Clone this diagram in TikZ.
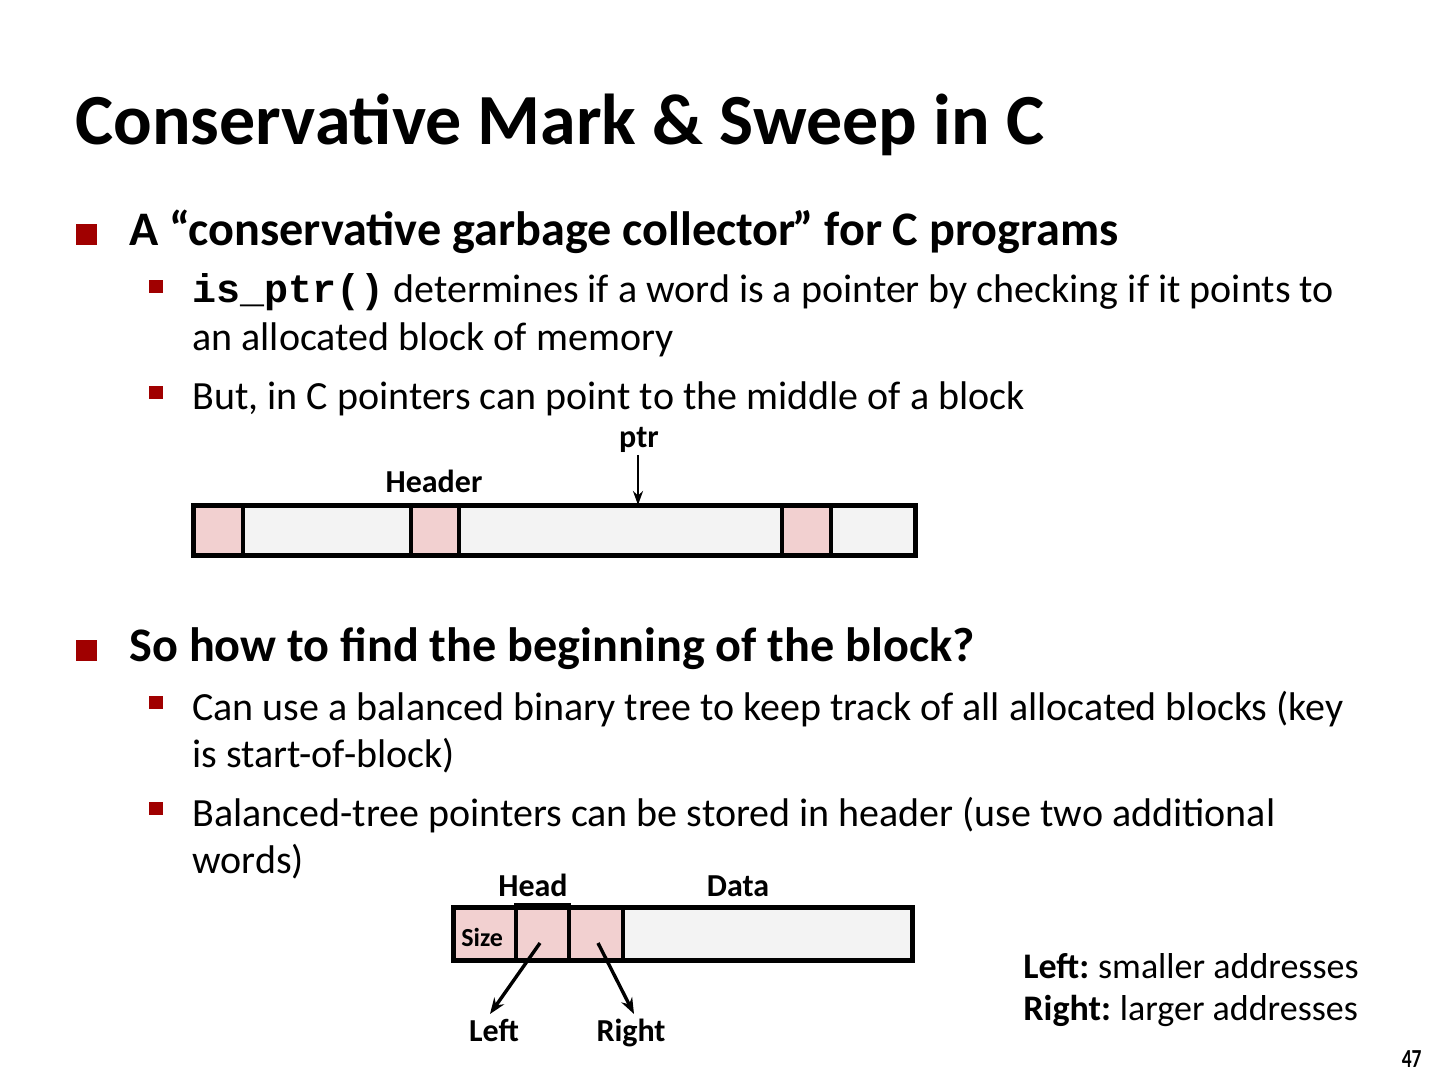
\documentclass[tikz,border=0pt]{standalone}
\usepackage{fontspec}
\setmainfont{Carlito}
\newfontfamily\codefont{Liberation Mono}
\usetikzlibrary{arrows.meta}
\definecolor{bulletred}{RGB}{160,0,0}
\definecolor{cellpink}{RGB}{242,208,208}
\definecolor{cellgrey}{RGB}{243,243,243}
\tikzset{
  txt/.style={inner sep=0pt, anchor=base west},
  ctxt/.style={inner sep=0pt, anchor=base},
  lvlone/.style={txt, font=\fontsize{24.1}{29}\selectfont\bfseries},
  lvltwo/.style={txt, font=\fontsize{20}{24}\selectfont},
  lbl/.style={ctxt, font=\fontsize{16}{19}\selectfont\bfseries},
  bigbullet/.style={fill=bulletred},
  smallbullet/.style={fill=bulletred},
  pinkcell/.style={fill=cellpink},
  greycell/.style={fill=cellgrey},
  blockline/.style={line width=2.5pt},
  divline/.style={line width=2pt},
  ptrarrow/.style={line width=1.3pt, -{Stealth[length=7pt,width=5pt]}},
  treearrow/.style={line width=1.7pt, -{Stealth[length=8pt,width=6pt]}},
}
\begin{document}
\begin{tikzpicture}[x=0.5pt,y=-0.5pt]
\useasboundingbox (0,0) rectangle (1440,1080);
% title
\node[txt, font=\fontsize{36}{43}\selectfont\bfseries] (title) at (75,145) {Conservative Mark \& Sweep in C};
% bullet 1
\path[bigbullet] (76,224) rectangle (97,245);
\node[lvlone] (b1) at (129,246) {A “conservative garbage collector\kern-1.5pt” for C programs};
\path[smallbullet] (149,280) rectangle (163,293);
\node[lvltwo] (b1a) at (192,303) {{\codefont\bfseries is\_ptr()} determines if a word is a pointer by checking if it points to};
\node[lvltwo] (b1a2) at (192,351) {an allocated block of memory};
\path[smallbullet] (149,386) rectangle (163,399);
\node[lvltwo] (b1b) at (192,410) {But, in C pointers can point to the middle of a block};
% top block
\path[pinkcell] (193,505) rectangle (243,555);
\path[greycell] (243,505) rectangle (411,555);
\path[pinkcell] (411,505) rectangle (459,555);
\path[greycell] (459,505) rectangle (782,555);
\path[pinkcell] (782,505) rectangle (831,555);
\path[greycell] (831,505) rectangle (915,555);
\draw[divline] (243,505) -- (243,555) (411,505) -- (411,555) (459,505) -- (459,555)
  (782,505) -- (782,555) (831,505) -- (831,555);
\draw[blockline] (193,505) rectangle (915,555);
\coordinate (ptrtarget) at (638,505);
\node[lbl] (header) at (434,493) {Header};
\node[lbl] (ptr) at (639,447) {ptr};
\coordinate (ptrstart) at (638,455);
\draw[ptrarrow] (ptrstart) -- (ptrtarget);
% bullet 2
\path[bigbullet] (76,640) rectangle (97,661);
\node[lvlone] (b2) at (129,661) {So how to find the beginning of the block?};
\path[smallbullet] (149,696) rectangle (163,709);
\node[lvltwo] (b2a) at (192,720) {Can use a balanced binary tree to keep track of all allocated blocks (key};
\node[lvltwo] (b2a2) at (192,767) {is start-of-block)};
\path[smallbullet] (149,802) rectangle (163,815);
\node[lvltwo] (b2b) at (192,826) {Balanced-tree pointers can be stored in header (use two additional};
\node[lvltwo] (b2b2) at (192,873) {words)};
% bottom block
\path[pinkcell] (453,907) rectangle (623,960);
\path[greycell] (623,907) rectangle (912,960);
\draw[divline] (569,907) -- (569,960) (623,907) -- (623,960);
\draw[blockline] (453,907) rectangle (912,960);
\draw[divline] (516,905) rectangle (569,960);
\node[txt, font=\fontsize{13}{16}\selectfont\bfseries] (size) at (461,946) {Size};
\node[lbl] (head) at (533,896) {Head};
\node[lbl] (data) at (738,896) {Data};
\node[lbl] (left) at (494,1041) {Left};
\node[lbl] (right) at (631,1041) {Right};
\coordinate (leftptr) at (540,943);
\coordinate (rightptr) at (598,943);
\coordinate (lefttip) at (490,1014);
\coordinate (righttip) at (634,1014);
\draw[treearrow] (leftptr) -- (lefttip);
\draw[treearrow] (rightptr) -- (righttip);
% legend
\node[txt, font=\fontsize{18}{22}\selectfont] (legl) at (1023,978) {\textbf{Left:}\kern-1pt{} smaller addresses};
\node[txt, font=\fontsize{18}{22}\selectfont] (legr) at (1023,1020) {\textbf{Right:}\kern-1pt{} larger addresses};
\node[inner sep=0pt, anchor=base east, font=\fontsize{13}{15}\selectfont\bfseries] (pagenum) at (1422,1067) {\scalebox{0.75}[1]{47}};
\end{tikzpicture}
\end{document}
